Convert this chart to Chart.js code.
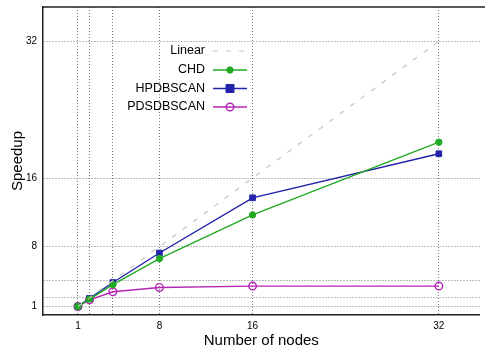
<!DOCTYPE html>
<html>
<head>
<meta charset="utf-8">
<script src="https://cdn.jsdelivr.net/npm/chart.js@4/dist/chart.umd.min.js"></script>
<style>
html,body{margin:0;padding:0;background:#fff;}
#wrap{width:485px;height:350px;}
</style>
</head>
<body>
<div id="wrap"><canvas id="c" width="485" height="350"></canvas></div>
<script>
const nodes = [1, 2, 4, 8, 16, 32];
const linear = [1, 2, 4, 8, 16, 32];
const chd = [1.0, 1.86, 3.55, 6.6, 11.7, 20.2];
const hpdbscan = [1.0, 1.94, 3.8, 7.25, 13.7, 18.85];
const pdsdbscan = [1.0, 1.78, 2.72, 3.22, 3.38, 3.38];
const gridTicks = [1, 2, 4, 8, 16, 32];
const labelTicks = [1, 8, 16, 32];
const seriesNames = ['Linear', 'CHD', 'HPDBSCAN', 'PDSDBSCAN'];

const FONT = "'Liberation Sans', Arial, sans-serif";
const pts = arr => nodes.map((x, i) => ({x: x, y: arr[i]}));
const noPad = s => { s.paddingLeft = 0; s.paddingRight = 0; s.paddingTop = 0; s.paddingBottom = 0; };

const frame = {
  id: 'frame',
  afterDatasetsDraw(chart) {
    const {ctx, chartArea: a} = chart;
    ctx.save();
    ctx.strokeStyle = '#222';
    ctx.lineWidth = 1.5;
    ctx.beginPath();
    ctx.moveTo(a.left, a.top);
    ctx.lineTo(chart.width, a.top);
    ctx.stroke();
    ctx.restore();
  }
};

const legendPlugin = {
  id: 'customLegend',
  afterDatasetsDraw(chart) {
    const {ctx} = chart;
    const ys = [51, 70, 88.5, 107];
    ctx.save();
    ctx.font = '12.5px ' + FONT;
    ctx.textAlign = 'right';
    ctx.textBaseline = 'middle';
    chart.data.datasets.forEach((ds, i) => {
      const y = ys[i];
      ctx.fillStyle = '#000';
      ctx.fillText(ds.label, 205, y);
      ctx.strokeStyle = ds.borderColor;
      ctx.lineWidth = ds.borderWidth;
      ctx.setLineDash(ds.borderDash || []);
      ctx.beginPath();
      ctx.moveTo(213, y);
      ctx.lineTo(247, y);
      ctx.stroke();
      ctx.setLineDash([]);
      if (ds.pointRadius > 0) {
        ctx.fillStyle = ds.pointBackgroundColor;
        ctx.strokeStyle = ds.pointBorderColor;
        ctx.lineWidth = ds.pointBorderWidth;
        ctx.beginPath();
        if (ds.pointStyle === 'rect') {
          const r = ds.pointRadius;
          ctx.rect(230 - r, y - r, 2 * r, 2 * r);
        } else {
          ctx.arc(230, y, ds.pointRadius, 0, Math.PI * 2);
        }
        if (ds.pointBackgroundColor !== 'rgba(0,0,0,0)') ctx.fill();
        ctx.stroke();
      }
    });
    ctx.restore();
  }
};

new Chart(document.getElementById('c'), {
  type: 'line',
  data: {
    datasets: [
      {label: seriesNames[0], data: pts(linear), borderColor: '#c4c4c4', borderWidth: 1.2,
       borderDash: [5, 8], pointRadius: 0, pointBackgroundColor: '#c4c4c4', pointBorderColor: '#c4c4c4', pointBorderWidth: 0},
      {label: seriesNames[1], data: pts(chd), borderColor: '#22aa22', borderWidth: 1.4,
       pointStyle: 'circle', pointRadius: 3.2, pointBackgroundColor: '#22aa22', pointBorderColor: '#22aa22', pointBorderWidth: 1},
      {label: seriesNames[2], data: pts(hpdbscan), borderColor: '#2222aa', borderWidth: 1.4,
       pointStyle: 'rect', pointRadius: 4, pointBackgroundColor: '#2222aa', pointBorderColor: '#2222aa', pointBorderWidth: 1},
      {label: seriesNames[3], data: pts(pdsdbscan), borderColor: '#b326b3', borderWidth: 1.4,
       pointStyle: 'circle', pointRadius: 3.8, pointBackgroundColor: 'rgba(0,0,0,0)', pointBorderColor: '#b326b3', pointBorderWidth: 1.4}
    ]
  },
  options: {
    responsive: false,
    animation: false,
    events: [],
    layout: {padding: {left: 0, right: 0, top: 7, bottom: 0}},
    plugins: {legend: {display: false}, tooltip: {enabled: false}},
    scales: {
      x: {
        type: 'linear', min: -2, max: 35.5,
        afterBuildTicks: s => { s.ticks = gridTicks.map(v => ({value: v})); },
        afterFit: s => { s.height = 35; noPad(s); },
        ticks: {
          autoSkip: false, maxRotation: 0, padding: 5,
          color: '#000', font: {family: FONT, size: 10},
          callback: v => labelTicks.includes(v) ? String(v) : ''
        },
        grid: {color: 'rgba(90,90,90,0.8)', lineWidth: 1, drawTicks: false, tickLength: 0},
        border: {display: true, color: '#222', width: 1.5, dash: [1, 2]},
        title: {display: true, text: 'Number of nodes', color: '#000',
                font: {family: FONT, size: 15}, padding: {top: 0, bottom: 0}}
      },
      y: {
        type: 'linear', min: 0, max: 36,
        afterBuildTicks: s => { s.ticks = gridTicks.map(v => ({value: v})); },
        afterFit: s => { s.width = 43; noPad(s); },
        ticks: {
          autoSkip: false, padding: 6,
          color: '#000', font: {family: FONT, size: 10},
          callback: v => labelTicks.includes(v) ? String(v) : ''
        },
        grid: {color: 'rgba(90,90,90,0.8)', lineWidth: 1, drawTicks: false, tickLength: 0},
        border: {display: true, color: '#222', width: 1.5, dash: [1, 2]},
        title: {display: true, text: 'Speedup', color: '#000',
                font: {family: FONT, size: 15}, padding: {top: 9, bottom: 0}}
      }
    }
  },
  plugins: [frame, legendPlugin]
});
</script>
</body>
</html>
